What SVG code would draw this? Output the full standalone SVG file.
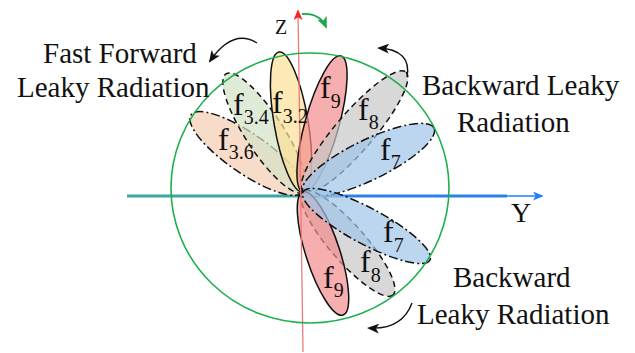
<svg xmlns="http://www.w3.org/2000/svg" width="635" height="353" viewBox="0 0 635 353">
<defs>
<style>
.lobe{stroke:#111;stroke-width:1.5;fill-opacity:0.7}
.solid{}
.dash{stroke-dasharray:6 4}
.dashdot{stroke-dasharray:9 3 2 3}
.lbl{font-family:"Liberation Serif","Times New Roman",serif;fill:#111}
.f{font-size:32px}
.sub{font-size:20px}
.big{font-size:29px}
.curve{fill:none;stroke:#111;stroke-width:1.4}
</style>
<marker id="ablack" viewBox="0 0 12 10" refX="10" refY="5" markerWidth="12" markerHeight="10" markerUnits="userSpaceOnUse" orient="auto">
<path d="M0,0 L12,5 L0,10 L3,5 z" fill="#111"/>
</marker>
<marker id="agreen" viewBox="0 0 12 10" refX="10" refY="5" markerWidth="12" markerHeight="10" markerUnits="userSpaceOnUse" orient="auto">
<path d="M0,0 L12,5 L0,10 L3,5 z" fill="#1aa84a"/>
</marker>
<marker id="ablue" viewBox="0 0 12 10" refX="10" refY="5" markerWidth="11" markerHeight="9" markerUnits="userSpaceOnUse" orient="auto">
<path d="M0,0 L12,5 L0,10 L3,5 z" fill="#1f7fff"/>
</marker>
<marker id="ared" viewBox="0 0 12 10" refX="10" refY="5" markerWidth="11" markerHeight="9" markerUnits="userSpaceOnUse" orient="auto">
<path d="M0,0 L12,5 L0,10 L3,5 z" fill="#ff2020"/>
</marker>
</defs>
<rect width="635" height="353" fill="#fff"/>

<g id="axes">
<line x1="127" y1="196" x2="303" y2="196" stroke="#3aa6a6" stroke-width="3"/>
<line x1="303" y1="196" x2="507" y2="196" stroke="#3a88cc" stroke-width="3"/>
<line x1="303" y1="196" x2="542" y2="196" stroke="#1f7fff" stroke-width="1.4" marker-end="url(#ablue)"/>
</g>

<g id="lobes">
<g id="lobe-f3.6"><ellipse class="lobe dashdot" cx="247" cy="153.5" rx="68" ry="20" fill="#f4cdb3" transform="rotate(34.5 247 153.5)"/></g>
<g id="lobe-f3.4"><ellipse class="lobe dash" cx="264.5" cy="133" rx="70.5" ry="19" fill="#d3e2c6" transform="rotate(56.9 264.5 133)"/></g>
<g id="lobe-f3.2"><ellipse class="lobe solid" cx="291" cy="122" rx="71" ry="17" fill="#fbdf95" transform="rotate(80.3 291 122)"/></g>
<g id="lobe-f9-up"><ellipse class="lobe solid" cx="322" cy="124" rx="70.6" ry="17" fill="#f28b8b" transform="rotate(-74.4 322 124)"/></g>
<g id="lobe-f8-up"><ellipse class="lobe dash" cx="354.5" cy="132" rx="79" ry="19" fill="#c8c8c8" transform="rotate(-49.4 354.5 132)"/></g>
<g id="lobe-f7-up"><ellipse class="lobe dashdot" cx="368.5" cy="160" rx="72.9" ry="20" fill="#9fc5e8" transform="rotate(-26 368.5 160)"/></g>
<g id="lobe-f8-low"><ellipse class="lobe dash" cx="348" cy="243.5" rx="68.4" ry="18" fill="#c8c8c8" transform="rotate(48.9 348 243.5)"/></g>
<g id="lobe-f9-low"><ellipse class="lobe solid" cx="323" cy="253.5" rx="64.7" ry="17" fill="#f28b8b" transform="rotate(72 323 253.5)"/></g>
<g id="lobe-f7-low"><ellipse class="lobe dashdot" cx="366.5" cy="226" rx="72" ry="18" fill="#9fc5e8" transform="rotate(28.2 366.5 226)"/></g>
</g>

<g id="zaxis">
<line x1="303" y1="352" x2="298" y2="11" stroke="#f07a7a" stroke-width="1.3" marker-end="url(#ared)"/>
</g>

<g id="circle">
<ellipse cx="310" cy="188" rx="139" ry="135" fill="none" stroke="#1db04c" stroke-width="1.6"/>
</g>

<g id="connectors">
<path class="curve" d="M257,43 Q233,28 210,61" marker-end="url(#ablack)"/>
<path class="curve" d="M407,77 Q412,50 379,48" marker-end="url(#ablack)"/>
<path class="curve" d="M412,303 Q402,330 369,328" marker-end="url(#ablack)"/>
<path d="M302,14 Q320,13 326,27" fill="none" stroke="#1aa84a" stroke-width="1.8" marker-end="url(#agreen)"/>
</g>

<g id="labels">
<text class="lbl" x="275" y="34" font-size="20">Z</text>
<text class="lbl" x="511" y="222" font-size="28">Y</text>
<text class="lbl f" x="320" y="98">f<tspan class="sub" dy="10">9</tspan></text>
<text class="lbl f" x="272" y="113">f<tspan class="sub" dy="10">3.2</tspan></text>
<text class="lbl f" x="233" y="115">f<tspan class="sub" dy="9">3.4</tspan></text>
<text class="lbl f" x="218" y="150">f<tspan class="sub" dy="9">3.6</tspan></text>
<text class="lbl f" x="358" y="120">f<tspan class="sub" dy="9">8</tspan></text>
<text class="lbl f" x="380" y="160">f<tspan class="sub" dy="9">7</tspan></text>
<text class="lbl f" x="383" y="242">f<tspan class="sub" dy="10">7</tspan></text>
<text class="lbl f" x="360" y="272">f<tspan class="sub" dy="10">8</tspan></text>
<text class="lbl f" x="323" y="288">f<tspan class="sub" dy="9">9</tspan></text>
<text class="lbl big" x="43" y="63">Fast Forward</text>
<text class="lbl big" x="17" y="97">Leaky Radiation</text>
<text class="lbl big" x="422" y="95">Backward Leaky</text>
<text class="lbl big" x="457" y="132">Radiation</text>
<text class="lbl big" x="453" y="287">Backward</text>
<text class="lbl big" x="417" y="324">Leaky Radiation</text>
</g>
</svg>
